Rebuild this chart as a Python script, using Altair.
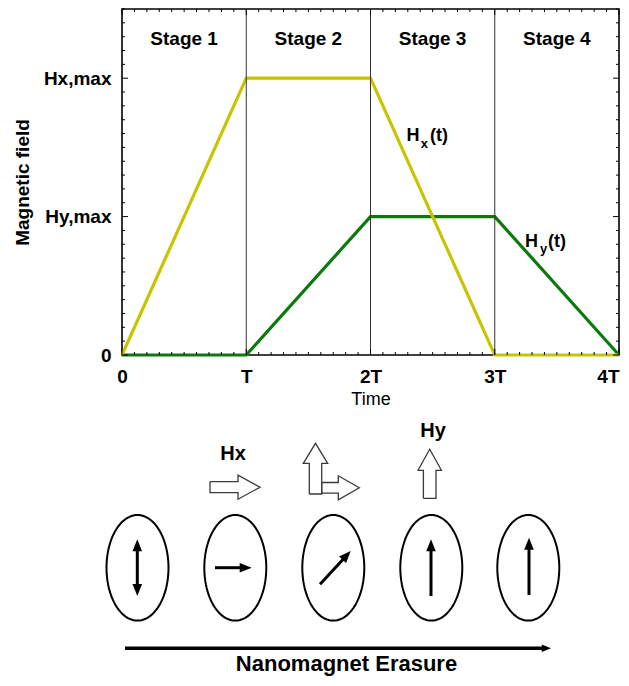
import json
import numpy as np
import pandas as pd
import altair as alt

FONT = "Liberation Sans"

# ---------------- top chart data ----------------
time_knots = [0, 1, 2, 3, 4]
hx_values = [0, 2, 2, 0, 0]
hy_values = [0, 0, 1, 1, 0]
hx_color = "#C8C400"
hy_color = "#0B790B"

x_tick_values = [0, 1, 2, 3, 4]
x_tick_labels = ["0", "T", "2T", "3T", "4T"]
y_tick_values = [0, 1, 2]
y_tick_labels = ["0", "Hy,max", "Hx,max"]

stage_names = ["Stage 1", "Stage 2", "Stage 3", "Stage 4"]
stage_centers = [0.5, 1.5, 2.5, 3.5]
stage_label_level = 2.24
stage_bounds = [1, 2, 3]

minor_x = [round(0.1 * i, 1) for i in range(41)]
minor_y = [round(0.1 * i, 1) for i in range(26)]

# curve labels  H_x(t), H_y(t) pieces
curve_label_text = ["H", "x", "(t)", "H", "y", "(t)"]
curve_label_t = [2.290, 2.405, 2.478, 3.243, 3.364, 3.428]
curve_label_f = [1.545, 1.495, 1.545, 0.782, 0.737, 0.782]
curve_label_size = [18, 13, 18, 18, 13, 18]

# ---------------- diagram data (layout units) ----------------
magnet_cx = [137.5, 235.3, 333.3, 431.3, 528.3]
magnet_cy = 567.8
magnet_rx = 31.0
magnet_ry = 52.8

moment_tail = [(137.3, 596.0), (215.0, 567.7), (320.0, 584.3), (431.0, 596.0), (529.0, 595.0)]
moment_tip = [(137.3, 539.3), (251.7, 567.7), (350.7, 551.0), (431.0, 539.3), (529.0, 537.7)]
moment_double = [True, False, False, False, False]

field_arrow_tail = [(210.0, 487.2), (315.5, 494.0), (321.7, 487.8), (429.7, 498.3)]
field_arrow_dir = [90, 0, 90, 0]  # degrees clockwise from "up"
field_arrow_len = [50.0, 50.7, 37.6, 49.0]
field_arrow_shaft = [5.5, 6.2, 5.3, 6.3]
field_arrow_head = [12.0, 12.2, 12.0, 11.7]
field_arrow_headlen = [22.0, 20.0, 21.0, 21.0]

diagram_text = ["Hx", "Hy", "Nanomagnet Erasure"]
diagram_text_x = [233.0, 433.0, 346.5]
diagram_text_y = [460.0, 436.5, 671.0]
diagram_text_size = [20, 20, 22]

erasure_tail = (125.0, 648.3)
erasure_tip = (551.0, 648.3)

# ---------------- top chart ----------------
xscale = alt.Scale(domain=[0, 4], nice=False, zero=False)
yscale = alt.Scale(domain=[0, 2.5], nice=False, zero=False)

xaxis = alt.Axis(
    values=x_tick_values,
    labelExpr=f"{json.dumps(x_tick_labels)}[round(datum.value)]",
    labelAlign={"condition": {"test": "datum.value == 4", "value": "right"}, "value": "center"},
    domain=False, ticks=False, tickSize=0, grid=False,
    labelFont=FONT, labelFontSize=19, labelFontWeight="bold", labelColor="black",
    labelPadding=12, labelOverlap=False, labelFlush=False,
    title="Time", titleFont=FONT, titleFontSize=18, titleFontWeight="normal",
    titleColor="black", titlePadding=4,
)
yaxis = alt.Axis(
    values=y_tick_values,
    labelExpr=f"{json.dumps(y_tick_labels)}[round(datum.value)]",
    domain=False, ticks=False, tickSize=0, grid=False,
    labelFont=FONT, labelFontSize=19, labelFontWeight="bold", labelColor="black",
    labelPadding=11, labelOverlap=False, labelFlush=False,
    title="Magnetic field", titleFont=FONT, titleFontSize=19, titleFontWeight="bold",
    titleColor="black", titlePadding=11,
)

X = alt.X("t:Q", scale=xscale, axis=xaxis)
Y = alt.Y("f:Q", scale=yscale, axis=yaxis)

hx_df = pd.DataFrame({"t": time_knots, "f": hx_values})
hy_df = pd.DataFrame({"t": time_knots, "f": hy_values})

hy_line = alt.Chart(hy_df).mark_line(color=hy_color, strokeWidth=3.2).encode(x=X, y=Y)
hx_line = alt.Chart(hx_df).mark_line(color=hx_color, strokeWidth=3.2).encode(x=X, y=Y)

stage_lines = alt.Chart(pd.DataFrame({"t": stage_bounds})).mark_rule(
    color="#333333", strokeWidth=1
).encode(x=X)

stage_df = pd.DataFrame({"t": stage_centers, "f": [stage_label_level] * 4, "name": stage_names})
stage_text = alt.Chart(stage_df).mark_text(
    font=FONT, fontSize=19, fontWeight="bold", color="black", baseline="alphabetic", align="center"
).encode(x=X, y=Y, text="name:N")

def tick_len(v):
    return 6 if abs(v - round(v)) < 1e-9 else 3

xt = pd.DataFrame({"t": minor_x, "len": [tick_len(v) for v in minor_x]})
yt = pd.DataFrame({"f": minor_y, "len": [tick_len(v) for v in minor_y]})
xt_small = xt[xt["len"] == 3]
xt_big = xt[xt["len"] == 6]
yt_small = yt[yt["len"] == 3]
yt_big = yt[yt["len"] == 6]

tick_layers = []
for d, L in [(xt_small, 3), (xt_big, 6)]:
    tick_layers.append(alt.Chart(d).mark_rule(color="black", strokeWidth=1).encode(
        x=X, y=alt.value(346), y2=alt.value(346 - L)))
    tick_layers.append(alt.Chart(d).mark_rule(color="black", strokeWidth=1).encode(
        x=X, y=alt.value(0), y2=alt.value(L)))
for d, L in [(yt_small, 3), (yt_big, 6)]:
    tick_layers.append(alt.Chart(d).mark_rule(color="black", strokeWidth=1).encode(
        y=Y, x=alt.value(0), x2=alt.value(L)))
    tick_layers.append(alt.Chart(d).mark_rule(color="black", strokeWidth=1).encode(
        y=Y, x=alt.value(497), x2=alt.value(497 - L)))

cl_df = pd.DataFrame({"t": curve_label_t, "f": curve_label_f,
                      "txt": curve_label_text, "sz": curve_label_size})
curve_labels = alt.Chart(cl_df).mark_text(
    font=FONT, fontWeight="bold", color="black", align="left", baseline="alphabetic"
).encode(x=X, y=Y, text="txt:N", size=alt.Size("sz:Q", scale=None))

top = alt.layer(hy_line, hx_line, stage_lines, stage_text, curve_labels, *tick_layers)

# ---------------- diagram ----------------
DX = alt.Scale(domain=[0, 629], range=[-122, 507], nice=False, zero=False)
DY = alt.Scale(domain=[0, 686], range=[-9, 677], nice=False, zero=False)
PX = alt.X("px:Q", scale=DX, axis=None)
PY = alt.Y("py:Q", scale=DY, axis=None)

# ellipses
rows = []
theta = np.linspace(0, 2 * np.pi, 97)
for k, cx in enumerate(magnet_cx):
    for i, th in enumerate(theta):
        rows.append({"id": f"m{k}", "i": i,
                     "px": cx + magnet_rx * np.cos(th),
                     "py": magnet_cy + magnet_ry * np.sin(th)})
ell_df = pd.DataFrame(rows)
ellipses = alt.Chart(ell_df).mark_line(color="black", strokeWidth=2).encode(
    x=PX, y=PY, detail="id:N", order="i:Q")

# hollow field arrows
rows = []
for k in range(len(field_arrow_tail)):
    tx, ty = field_arrow_tail[k]
    a = np.radians(field_arrow_dir[k])
    u = (np.sin(a), -np.cos(a))
    v = (np.cos(a), np.sin(a))
    L = field_arrow_len[k]
    s = field_arrow_shaft[k]
    H = field_arrow_head[k]
    h = field_arrow_headlen[k]
    local = [(0, -s), (L - h, -s), (L - h, -H), (L, 0), (L - h, H), (L - h, s), (0, s), (0, -s)]
    for i, (aa, bb) in enumerate(local):
        rows.append({"id": f"a{k}", "i": i,
                     "px": tx + aa * u[0] + bb * v[0],
                     "py": ty + aa * u[1] + bb * v[1]})
fa_df = pd.DataFrame(rows)
field_arrows = alt.Chart(fa_df).mark_line(color="#3a3a3a", strokeWidth=1.3).encode(
    x=PX, y=PY, detail="id:N", order="i:Q")

# solid arrows (moments + erasure arrow)
HEAD_SHAPE = "M0,-1L0.8,1L-0.8,1Z"
shaft_rows, head_rows = [], []

def add_arrow(tail, tip, double, r, width):
    dx, dy = tip[0] - tail[0], tip[1] - tail[1]
    n = np.hypot(dx, dy)
    ux, uy = dx / n, dy / n
    ang = float(np.degrees(np.arctan2(dx, -dy)) % 360)
    hc_end = (tip[0] - r * ux, tip[1] - r * uy)
    head_rows.append({"px": hc_end[0], "py": hc_end[1], "ang": ang, "sz": (2 * r) ** 2})
    start = tail
    if double:
        start = (tail[0] + r * ux, tail[1] + r * uy)
        head_rows.append({"px": start[0], "py": start[1], "ang": (ang + 180) % 360, "sz": (2 * r) ** 2})
    shaft_rows.append({"px": start[0], "py": start[1], "px2": hc_end[0], "py2": hc_end[1], "w": width})

for k in range(len(moment_tail)):
    add_arrow(moment_tail[k], moment_tip[k], moment_double[k], 6.0, 3.0)
add_arrow(erasure_tail, erasure_tip, False, 4.6, 3.6)

shaft_df = pd.DataFrame(shaft_rows)
head_df = pd.DataFrame(head_rows)
shafts = alt.Chart(shaft_df).mark_rule(color="black").encode(
    x=PX, y=PY, x2="px2:Q", y2="py2:Q", strokeWidth=alt.StrokeWidth("w:Q", scale=None))
heads = alt.Chart(head_df).mark_point(
    shape=HEAD_SHAPE, filled=True, color="black", opacity=1, strokeWidth=0
).encode(x=PX, y=PY, angle=alt.Angle("ang:Q", scale=None), size=alt.Size("sz:Q", scale=None))

dt_df = pd.DataFrame({"px": diagram_text_x, "py": diagram_text_y,
                      "txt": diagram_text, "sz": diagram_text_size})
dtext = alt.Chart(dt_df).mark_text(
    font=FONT, fontWeight="bold", color="black", align="center", baseline="alphabetic"
).encode(x=PX, y=PY, text="txt:N", size=alt.Size("sz:Q", scale=None))

diagram = alt.layer(ellipses, field_arrows, shafts, heads, dtext)

chart = alt.layer(top, diagram).resolve_scale(
    x="independent", y="independent"
).properties(
    width=497, height=346,
    autosize=alt.AutoSizeParams(type="none"),
    padding={"left": 114, "top": 1, "right": 2, "bottom": 322},
).configure(font=FONT).configure_view(stroke="black", strokeWidth=1.6)

chart.save("out.html", embed_options={"renderer": "svg", "actions": False})
